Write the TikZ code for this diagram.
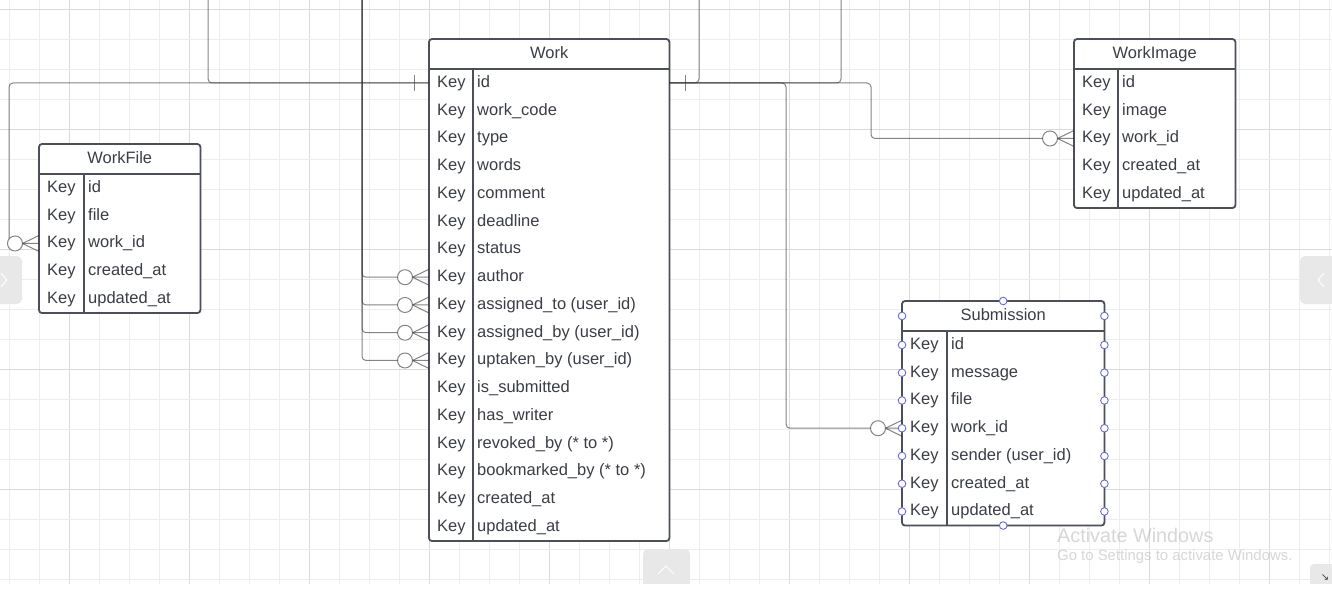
\documentclass[tikz,border=0pt]{standalone}
\usepackage{fontspec}
\setmainfont{Liberation Sans}
\newfontfamily\symfont{DejaVu Sans}
\usepackage{tikz}
\usetikzlibrary{shapes,arrows.meta,calc,positioning}
\tikzset{>=latex}
\usepackage{xcolor}

\definecolor{tabgray}{HTML}{4B4F57}
\definecolor{txtgray}{HTML}{3A3E45}
\definecolor{gridminor}{HTML}{EDEDED}
\definecolor{gridmajor}{HTML}{DADADA}
\definecolor{pointblue}{HTML}{6A6AE0}
\definecolor{tabfill}{HTML}{E8E8E8}
\definecolor{wmgray}{HTML}{B0B0B0}

\tikzset{
  headbox/.style={inner sep=0pt, minimum height=29.5pt, text=txtgray,
    text height=11pt, text depth=2pt, font=\fontsize{16.5}{19}\selectfont},
  rowbox/.style={inner sep=0pt, minimum height=27.75pt},
  keytext/.style={anchor=west, inner sep=0pt, text=txtgray,
    text height=11pt, text depth=2pt, font=\fontsize{16.5}{19}\selectfont},
  fieldtext/.style={keytext},
  tabline/.style={draw=tabgray, line width=1.8pt},
  conn/.style={draw=black!80, draw opacity=0.6, line width=1pt},
  ptmark/.style={draw=pointblue, fill=white, line width=0.9pt},
  gridthin/.style={draw=gridminor, line width=0.8pt},
  gridthick/.style={draw=gridmajor, line width=0.9pt},
  watermark/.style={anchor=west, inner sep=0pt, text=wmgray, text opacity=0.5}
}

% name, left, top, width, key column, rows, title, fields
\newcommand{\ertable}[8]{%
  \path[fill=white, rounded corners=3pt] (#2,#3) rectangle ++(#4,{29.5+#6*27.75});
  \node[headbox, minimum width=#4pt, anchor=north west] (#1) at (#2,#3) {#7};
  \foreach \fld [count=\i] in {#8} {
    \node[rowbox, minimum width=#4pt, anchor=north] (#1-\i) at ($(#1.south)+(0,{(\i-1)*27.75})$) {};
    \node[keytext] (#1-\i-key) at ($(#1-\i.west)+(8,0)$) {Key};
    \node[fieldtext] (#1-\i-name) at ($(#1-\i.west)+(#5+4,0)$) {\fld};
  }
  \draw[tabline, rounded corners=3pt] (#1.north west) rectangle (#1-#6.south east);
  \draw[tabline] (#1.south west) -- (#1.south east);
  \draw[tabline] ($(#1-1.north west)+(#5,0)$) -- ($(#1-#6.south west)+(#5,0)$);
}

% zero-or-many end, line comes in from the left
\newcommand{\zeromany}[1]{%
  \draw[conn] ([xshift=-16.5pt]#1.west) -- ([yshift=8pt]#1.west)
              ([xshift=-16.5pt]#1.west) -- ([yshift=-8pt]#1.west);
  \draw[conn, fill=white] ([xshift=-24pt]#1.west) circle[radius=7.5pt];
}

\begin{document}
\begin{tikzpicture}[x=1pt, y=-1pt]
  \useasboundingbox (0,0) rectangle (1332,605);
  \fill[white] (0,0) rectangle (1332,605);

  % canvas grid
  \foreach \g in {0,...,44} {
    \pgfmathsetmacro{\gx}{9.3+30*\g}
    \pgfmathsetmacro{\gm}{int(Mod(\g,4))}
    \ifnum\gm=2
      \draw[gridthick] (\gx,0) -- (\gx,584);
    \else
      \draw[gridthin] (\gx,0) -- (\gx,584);
    \fi
  }
  \foreach \g in {0,...,19} {
    \pgfmathsetmacro{\gy}{9.3+30*\g}
    \pgfmathsetmacro{\gm}{int(Mod(\g,4))}
    \ifnum\gm=0
      \draw[gridthick] (0,\gy) -- (1332,\gy);
    \else
      \draw[gridthin] (0,\gy) -- (1332,\gy);
    \fi
  }

  % editor tabs
  \fill[tabfill, rounded corners=5pt] (-8,256) rectangle (22,304);
  \draw[white, line width=1pt] (1,273) -- (7,280) -- (1,287);
  \fill[tabfill, rounded corners=5pt] (1300,256) rectangle (1340,304);
  \draw[white, line width=1pt] (1324,273) -- (1318,280) -- (1324,287);
  \fill[tabfill, rounded corners=5pt] (643,549) rectangle (690,600);
  \draw[white, line width=1pt] (658,574) -- (666,566) -- (674,574);
  \fill[tabfill, rounded corners=4pt] (1310,564) rectangle (1340,600);
  \fill[white] (0,584) rectangle (1332,605);
  \node[inner sep=0pt, text=txtgray, font=\symfont\fontsize{10}{12}\selectfont] (resize) at (1325,578) {↘};

  % tables
  \ertable{work}{429}{39}{240}{44}{17}{Work}{id, work\_code, type, words, comment, deadline, status, author, assigned\_to (user\_id), assigned\_by (user\_id), uptaken\_by (user\_id), is\_submitted, has\_writer, revoked\_by (* to *), bookmarked\_by (* to *), created\_at, updated\_at}
  \ertable{wfile}{39}{144}{161}{45}{5}{WorkFile}{id, file, work\_id, created\_at, updated\_at}
  \ertable{wimg}{1074}{39}{161}{44}{5}{WorkImage}{id, image, work\_id, created\_at, updated\_at}
  \ertable{sub}{902}{301}{202}{45}{7}{Submission}{id, message, file, work\_id, sender (user\_id), created\_at, updated\_at}

  % relations
  \coordinate (topleft) at (208,0);
  \coordinate (topuser) at (362,0);
  \coordinate (topright) at (699,0);
  \coordinate (topfar) at (841,0);

  \draw[conn, rounded corners=4pt] (topleft) |- (work-1.west);
  \draw[conn, rounded corners=4pt] (work-1.west) -| ([xshift=-30pt]wfile-3.west) -- (wfile-3.west);
  \foreach \r in {8,...,11}
    \draw[conn, rounded corners=4pt] (topuser) |- (work-\r.west);
  \draw[conn, rounded corners=4pt] (topright) |- (work-1.east);
  \draw[conn, rounded corners=4pt] (topfar) |- (work-1.east);
  \draw[conn, rounded corners=4pt] (work-1.east) -| ([xshift=-116pt]sub-4.west) -- (sub-4.west);
  \draw[conn, rounded corners=4pt] (work-1.east) -| ([xshift=-203pt]wimg-3.west) -- (wimg-3.west);

  \draw[conn] ([xshift=-15pt]work-1.west) ++(0,-8) -- ++(0,16);
  \draw[conn] ([xshift=16pt]work-1.east) ++(0,-8) -- ++(0,16);

  \zeromany{wfile-3}
  \zeromany{wimg-3}
  \zeromany{sub-4}
  \foreach \r in {8,...,11} {
    \zeromany{work-\r}
  }

  % selected table handles
  \foreach \i in {1,...,7} {
    \draw[ptmark] (sub-\i.west) circle[radius=3.8pt];
    \draw[ptmark] (sub-\i.east) circle[radius=3.8pt];
  }
  \draw[ptmark] (sub.west) circle[radius=3.8pt];
  \draw[ptmark] (sub.east) circle[radius=3.8pt];
  \draw[ptmark] (sub.north) circle[radius=3.8pt];
  \draw[ptmark] (sub-7.south) circle[radius=3.8pt];

  % watermark
  \node[watermark, font=\fontsize{19.8}{22}\selectfont] (wm1) at (1057,535) {Activate Windows};
  \node[watermark, font=\fontsize{14.9}{17}\selectfont] (wm2) at (1057,557) {Go to Settings to activate Windows.};
\end{tikzpicture}
\end{document}
